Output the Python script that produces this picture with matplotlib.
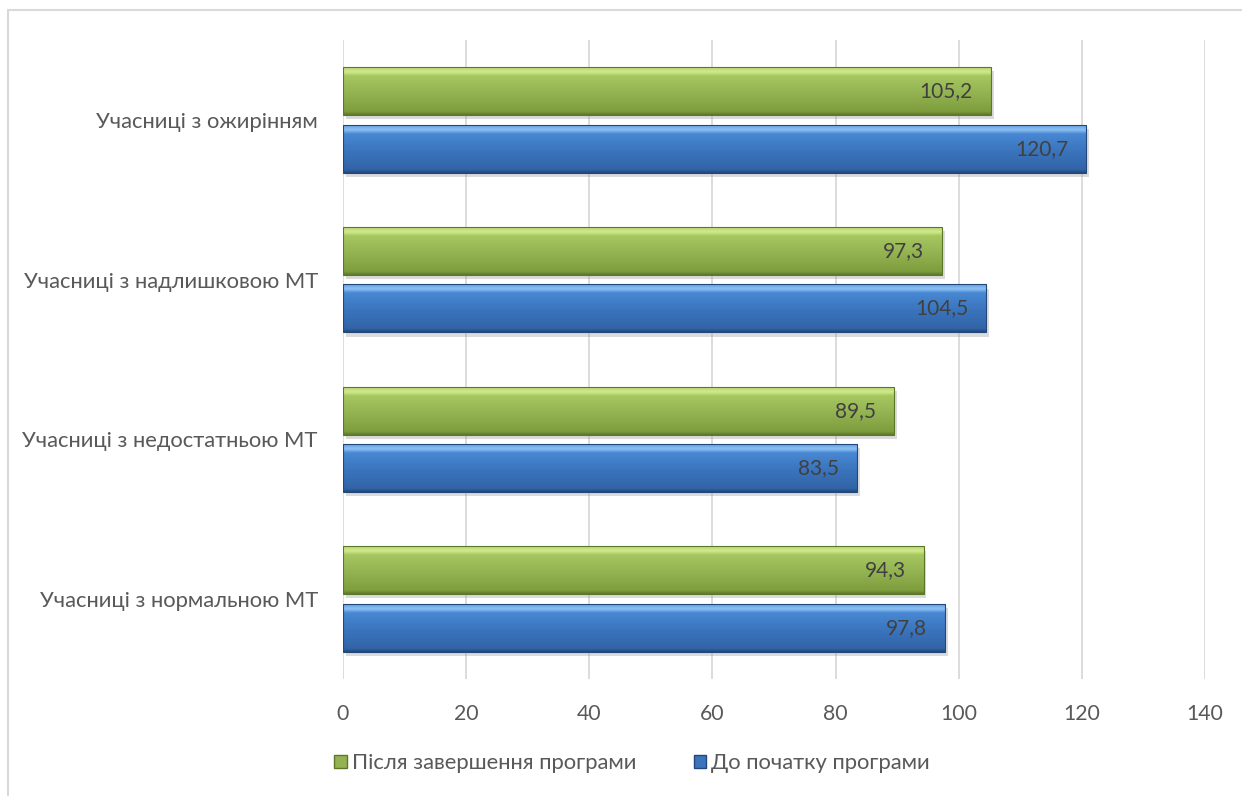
import numpy as np
import matplotlib.pyplot as plt
import matplotlib.patheffects as pe
from matplotlib.colors import LinearSegmentedColormap
from matplotlib.patches import Rectangle, Patch

categories = ['Учасниці з нормальною МТ', 'Учасниці з недостатньою МТ',
              'Учасниці з надлишковою МТ', 'Учасниці з ожирінням']
after = [94.3, 89.5, 97.3, 105.2]
before = [97.8, 83.5, 104.5, 120.7]
series_names = ['Після завершення програми', 'До початку програми']
xticks = [0, 20, 40, 60, 80, 100, 120, 140]

plt.rcParams['font.family'] = ['Lato', 'DejaVu Sans']

# vertical gradients for the bevelled bars (bottom -> top)
green_cm = LinearSegmentedColormap.from_list('g', [
    (0.0, '#5c772a'), (0.07, '#7e9d3d'), (0.45, '#93b352'),
    (0.82, '#a6c660'), (0.9, '#d2ea8c'), (1.0, '#b9d673')])
blue_cm = LinearSegmentedColormap.from_list('b', [
    (0.0, '#23477a'), (0.07, '#3264a6'), (0.45, '#3a74bd'),
    (0.82, '#4888d3'), (0.9, '#8cc1f3'), (1.0, '#66a2e3')])

fig = plt.figure(figsize=(12.42, 7.96), dpi=100)
ax = fig.add_axes([343 / 1242, 1 - 679 / 796, 862 / 1242, 639 / 796])

y = np.arange(len(categories))
h = 0.3
off = 0.18
grad = np.linspace(0, 1, 128).reshape(-1, 1)
shadow = [pe.SimplePatchShadow(offset=(2, -3), shadow_rgbFace='#9a9a9a', alpha=0.35), pe.Normal()]

for vals, pos, cm, base, edge in [(after, y + off, green_cm, '#93b352', '#5c772a'),
                                  (before, y - off, blue_cm, '#3a74bd', '#23477a')]:
    bars = ax.barh(pos, vals, height=h, color=base, zorder=2, path_effects=shadow)
    for b in bars:
        x0, y0 = b.get_x(), b.get_y()
        ax.imshow(grad, cmap=cm, extent=[x0, x0 + b.get_width(), y0, y0 + b.get_height()],
                  origin='lower', aspect='auto', zorder=3, interpolation='bicubic')
    ax.barh(pos, vals, height=h, fill=False, edgecolor=edge, lw=0.8, zorder=4)
    for v, p in zip(vals, pos):
        ax.text(v - 2.9, p, f'{v:.1f}'.replace('.', ','), ha='right', va='center',
                fontsize=15, color='#404040', zorder=5)

ax.set_xlim(0, 140)
ax.set_ylim(-0.5, len(categories) - 0.5)
ax.set_xticks(xticks)
ax.set_yticks(y, categories)
ax.grid(axis='x', color='#d9d9d9', lw=1.3)
ax.set_axisbelow(True)
for s in ax.spines.values():
    s.set_visible(False)
ax.tick_params(axis='x', length=0, pad=18, labelsize=15.3, labelcolor='#595959')
ax.tick_params(axis='y', length=0, pad=18, labelsize=15.8, labelcolor='#595959')

handles = [Patch(facecolor='#93b352', edgecolor='#5c772a'),
           Patch(facecolor='#3a74bd', edgecolor='#23477a')]
fig.legend(handles, series_names, loc='center', bbox_to_anchor=(0.509, 1 - 763 / 796),
           ncol=2, frameon=False, handlelength=0.55, handleheight=0.55,
           handletextpad=0.25, columnspacing=2.6, fontsize=15.8, labelcolor='#595959')

fig.add_artist(Rectangle((8 / 1242, -0.05), 1.1, 1.05 - 10 / 796, transform=fig.transFigure,
                         fill=False, edgecolor='#d9d9d9', lw=1.5))

fig.savefig('out.png', dpi=100)
